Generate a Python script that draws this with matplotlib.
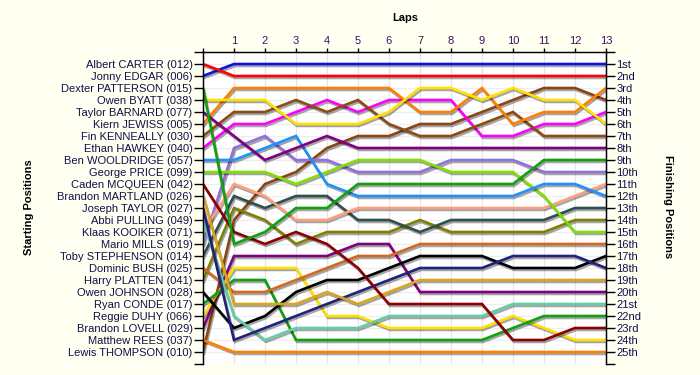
import matplotlib
matplotlib.use("Agg")
import matplotlib.pyplot as plt
import matplotlib.patheffects as pe

# ---------------------------------------------------------------------------
# data: grid order, finishing labels, position after every lap
# ---------------------------------------------------------------------------
laps = list(range(14))  # 0 = start

drivers = [
    "Albert CARTER (012)", "Jonny EDGAR (006)", "Dexter PATTERSON (015)",
    "Owen BYATT (038)", "Taylor BARNARD (077)", "Kiern JEWISS (005)",
    "Fin KENNEALLY (030)", "Ethan HAWKEY (040)", "Ben WOOLDRIDGE (057)",
    "George PRICE (099)", "Caden MCQUEEN (042)", "Brandon MARTLAND (026)",
    "Joseph TAYLOR (027)", "Abbi PULLING (049)", "Klaas KOOIKER (071)",
    "Mario MILLS (019)", "Toby STEPHENSON (014)", "Dominic BUSH (025)",
    "Harry PLATTEN (041)", "Owen JOHNSON (028)", "Ryan CONDE (017)",
    "Reggie DUHY (066)", "Brandon LOVELL (029)", "Matthew REES (037)",
    "Lewis THOMPSON (010)",
]

colors = [
    "#ff0000", "#1010e0", "#10a010", "#ffe000", "#800080",
    "#ff8000", "#8b4c13", "#ff00ff", "#1e90ff", "#80e000",
    "#8b0000", "#daa520", "#22227a", "#66cdaa", "#ffa07a",
    "#9370db", "#2f4f4f", "#d2691e", "#808000", "#000000",
    "#10a010", "#ffe000", "#800080", "#ff8000", "#8b4513",
]

finish_labels = [
    "1st", "2nd", "3rd", "4th", "5th", "6th", "7th", "8th", "9th", "10th",
    "11th", "12th", "13th", "14th", "15th", "16th", "17th", "18th", "19th",
    "20th", "21st", "22nd", "23rd", "24th", "25th",
]

positions = [
    [1, 2, 2, 2, 2, 2, 2, 2, 2, 2, 2, 2, 2, 2],
    [2, 1, 1, 1, 1, 1, 1, 1, 1, 1, 1, 1, 1, 1],
    [3, 16, 15, 13, 13, 11, 11, 11, 11, 11, 11, 9, 9, 9],
    [4, 4, 4, 6, 6, 6, 5, 3, 3, 4, 3, 4, 4, 6],
    [5, 7, 9, 8, 7, 8, 8, 8, 8, 8, 8, 8, 8, 8],
    [6, 3, 3, 3, 3, 3, 3, 5, 5, 3, 6, 5, 5, 3],
    [7, 5, 5, 4, 5, 4, 6, 7, 7, 6, 5, 7, 7, 7],
    [8, 6, 6, 5, 4, 5, 4, 4, 4, 7, 7, 6, 6, 5],
    [9, 9, 8, 7, 11, 12, 12, 12, 12, 12, 12, 11, 11, 12],
    [10, 10, 10, 11, 10, 9, 9, 9, 10, 10, 10, 12, 15, 15],
    [11, 15, 16, 15, 16, 18, 21, 21, 21, 21, 24, 24, 23, 23],
    [12, 21, 21, 21, 20, 21, 20, 19, 19, 19, 19, 19, 19, 19],
    [13, 24, 23, 22, 21, 20, 19, 18, 18, 18, 17, 17, 17, 18],
    [14, 22, 24, 23, 23, 23, 22, 22, 22, 22, 21, 21, 21, 21],
    [15, 11, 12, 14, 14, 13, 13, 13, 13, 13, 13, 13, 12, 11],
    [16, 8, 7, 9, 9, 10, 10, 10, 9, 9, 9, 10, 10, 10],
    [17, 12, 13, 12, 12, 14, 14, 15, 14, 14, 14, 14, 13, 13],
    [18, 20, 20, 19, 18, 17, 17, 16, 16, 16, 16, 16, 16, 16],
    [19, 13, 14, 16, 15, 15, 15, 14, 15, 15, 15, 15, 14, 14],
    [20, 23, 22, 20, 19, 19, 18, 17, 17, 17, 18, 18, 18, 17],
    [21, 19, 19, 24, 24, 24, 24, 24, 24, 24, 23, 22, 22, 22],
    [22, 18, 18, 18, 22, 22, 23, 23, 23, 23, 22, 23, 24, 24],
    [23, 17, 17, 17, 17, 16, 16, 20, 20, 20, 20, 20, 20, 20],
    [24, 25, 25, 25, 25, 25, 25, 25, 25, 25, 25, 25, 25, 25],
    [25, 14, 11, 10, 8, 7, 7, 6, 6, 5, 4, 3, 3, 4],
]

# ---------------------------------------------------------------------------
# figure
# ---------------------------------------------------------------------------
plt.rcParams["font.family"] = ["Liberation Sans", "DejaVu Sans"]
BG = "#fffff2"
SIDE_COL = "#101048"
TOP_COL = "#401058"

fig = plt.figure(figsize=(7, 3.75), dpi=100, facecolor=BG)
ax = fig.add_axes([203 / 700, 1 - 364 / 375, 403 / 700, 312 / 375])
ax.set_facecolor("white")

n = len(drivers)
ax.set_xlim(0, laps[-1])
ax.set_ylim(n + 1, 0)

# light grid
for x in laps[1:]:
    ax.axvline(x, color="#e6e6e6", lw=0.9, zorder=0)
for y in range(1, n + 1):
    ax.axhline(y, color="#eeeeee", lw=0.9, zorder=0)

shadow = [pe.SimpleLineShadow(offset=(0.8, -1.4), shadow_color="black", alpha=0.35),
          pe.Normal()]
for i in range(n - 1, -1, -1):
    ax.plot(laps, positions[i], color=colors[i], lw=1.9, zorder=2,
            solid_joinstyle="miter", path_effects=shadow)

# left axis: starting grid
ax.set_yticks(range(0, n + 2))
ax.set_yticklabels([""] + drivers + [""])
ax.tick_params(axis="y", left=True, length=6.5, width=1, pad=1,
               labelsize=8, labelcolor=SIDE_COL)

# top axis: laps
ax.xaxis.tick_top()
ax.set_xticks(laps)
ax.set_xticklabels([""] + [str(l) for l in laps[1:]])
ax.tick_params(axis="x", top=True, bottom=False, length=3, width=1, pad=1.5,
               labelsize=8, labelcolor=TOP_COL)

ax.spines["bottom"].set_visible(False)
for s in ("left", "top", "right"):
    ax.spines[s].set_linewidth(1)

# right axis: finishing positions
ax2 = ax.twinx()
ax2.set_ylim(n + 1, 0)
ax2.set_yticks(range(0, n + 2))
ax2.set_yticklabels([""] + finish_labels + [""])
ax2.tick_params(axis="y", right=True, length=6.5, width=1, pad=1,
                labelsize=8, labelcolor=SIDE_COL)
ax2.spines["bottom"].set_visible(False)

fig.text(405 / 700, 1 - 18 / 375, "Laps", ha="center", va="center",
         fontsize=8, fontweight="bold")
fig.text(29 / 700, 1 - 207 / 375, "Starting Positions", ha="center", va="center",
         rotation=90, fontsize=8, fontweight="bold")
fig.text(668 / 700, 1 - 207 / 375, "Finishing Positions", ha="center", va="center",
         rotation=270, fontsize=8, fontweight="bold")

fig.savefig("out.png", dpi=100, facecolor=BG)
